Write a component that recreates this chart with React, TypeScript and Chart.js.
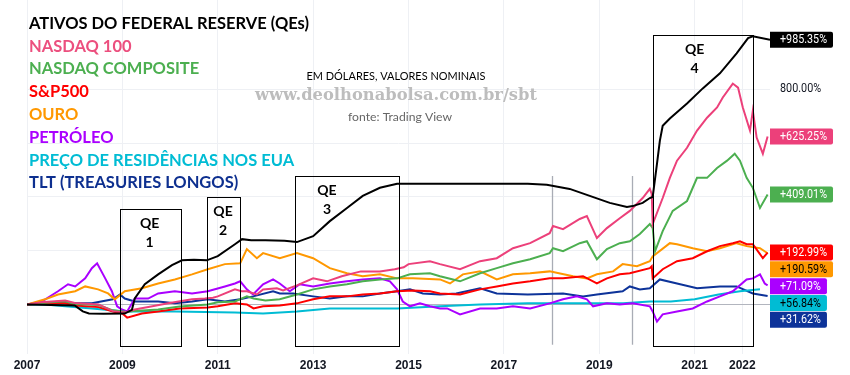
import React, { useEffect, useRef } from "react";
import { Chart, registerables } from "chart.js";

Chart.register(...registerables);

// ---------- data ----------
const xTickYears = [2007, 2009, 2011, 2013, 2015, 2017, 2019, 2021, 2022];
const yGridValues = [0, 200, 400, 600, 800];
const yLabelValue = 800;
const markerYears = [2018.0, 2019.68];
const markerRange = [-150, 478];

const seriesNames = [
  "ATIVOS DO FEDERAL RESERVE (QEs)",
  "NASDAQ 100",
  "NASDAQ COMPOSITE",
  "S&P500",
  "OURO",
  "PETRÓLEO",
  "PREÇO DE RESIDÊNCIAS NOS EUA",
  "TLT (TREASURIES LONGOS)",
];
const seriesColors = ["#000000", "#EC407A", "#4CAF50", "#FF0000", "#FF9800", "#AA00FF", "#00BCD4", "#0D3399"];
const legendColors = ["#000000", "#EC4F7E", "#4CAF50", "#FF0000", "#FF9800", "#AA00FF", "#00BCD4", "#0D2F8F"];
const tagTextColors = ["#ffffff", "#ffffff", "#ffffff", "#ffffff", "#000000", "#ffffff", "#000000", "#ffffff"];
const finalValues = [985.35, 625.25, 409.01, 192.99, 190.59, 71.09, 56.84, 31.62];

const fedAssets = [
  [2007.0, 0], [2008.0, -4], [2008.17, -26], [2008.3, -34], [2008.6, -35], [2009.05, -34], [2009.2, -20],
  [2009.26, 22], [2009.47, 75], [2009.75, 112], [2010.04, 146], [2010.25, 164], [2010.5, 166], [2010.77, 164],
  [2011.0, 180], [2011.36, 224], [2011.51, 243], [2011.7, 239], [2012.0, 239], [2012.4, 237], [2012.66, 232],
  [2013.0, 254], [2013.35, 310], [2013.71, 359], [2014.04, 404], [2014.4, 434], [2014.76, 449], [2015.1, 449],
  [2015.66, 449], [2016.5, 449], [2017.5, 449], [2017.9, 445], [2018.38, 430], [2018.8, 404], [2019.22, 378],
  [2019.58, 363], [2019.7, 366], [2019.91, 378], [2020.06, 396], [2020.12, 400], [2020.21, 523], [2020.27, 609],
  [2020.33, 665], [2020.48, 692], [2020.84, 748], [2021.17, 804], [2021.53, 860], [2021.88, 934], [2022.12, 991],
  [2022.22, 998], [2022.58, 985.35],
];
const nasdaq100 = [
  [2007.0, 0], [2007.3, 8], [2007.8, 15], [2008.0, 5], [2008.5, 0], [2008.8, -25], [2009.05, -30], [2009.26, -19],
  [2009.6, -8], [2009.96, 4], [2010.46, 19], [2010.73, 22], [2010.9, 25], [2011.0, 30], [2011.36, 56], [2011.5, 49],
  [2011.61, 49], [2011.82, 37], [2011.95, 56], [2012.24, 60], [2012.37, 52], [2012.66, 71], [2013.0, 97],
  [2013.29, 86], [2013.6, 105], [2014.0, 123], [2014.4, 123], [2014.71, 131], [2014.9, 138], [2015.0, 150],
  [2015.45, 161], [2015.66, 150], [2016.08, 131], [2016.5, 161], [2016.85, 172], [2017.19, 209], [2017.55, 228],
  [2017.96, 265], [2018.03, 292], [2018.24, 280], [2018.59, 318], [2018.74, 329], [2018.95, 247], [2019.16, 284],
  [2019.43, 321], [2019.64, 348], [2019.91, 396], [2020.06, 430], [2020.1, 411], [2020.12, 299], [2020.33, 396],
  [2020.48, 471], [2020.63, 535], [2020.84, 583], [2021.05, 647], [2021.26, 695], [2021.47, 733], [2021.59, 770],
  [2021.8, 822], [2021.91, 807], [2022.01, 733], [2022.16, 647], [2022.22, 721], [2022.3, 621], [2022.43, 561],
  [2022.53, 625.25],
];
const nasdaqComposite = [
  [2007.0, 0], [2007.5, 8], [2007.8, 12], [2008.0, 2], [2008.5, -2], [2008.8, -22], [2009.1, -28], [2009.26, -24],
  [2009.75, -19], [2010.2, -8], [2010.79, 0], [2011.0, 8], [2011.36, 11], [2011.61, 30], [2011.75, 22], [2012.0, 15],
  [2012.3, 19], [2012.66, 37], [2013.0, 56], [2013.35, 67], [2013.71, 75], [2014.04, 86], [2014.4, 93],
  [2014.76, 97], [2015.03, 112], [2015.45, 116], [2015.66, 105], [2016.08, 86], [2016.5, 116], [2016.85, 135],
  [2017.19, 153], [2017.55, 168], [2017.96, 191], [2018.03, 209], [2018.24, 198], [2018.59, 228], [2018.74, 235],
  [2018.95, 168], [2019.16, 206], [2019.43, 228], [2019.64, 235], [2019.85, 262], [2020.06, 299], [2020.12, 285],
  [2020.17, 198], [2020.33, 273], [2020.54, 348], [2020.84, 385], [2021.05, 471], [2021.26, 471], [2021.47, 508],
  [2021.68, 535], [2021.84, 561], [2021.95, 535], [2022.09, 471], [2022.22, 434], [2022.37, 359], [2022.53, 409.01],
];
const sp500 = [
  [2007.0, 0], [2007.5, 5], [2007.8, 4], [2008.0, -4], [2008.5, -10], [2008.8, -26], [2009.0, -34], [2009.1, -49],
  [2009.41, -34], [2009.75, -26], [2010.2, -15], [2010.79, -11], [2011.0, -7], [2011.36, 4], [2011.61, 0],
  [2011.75, -15], [2011.95, -7], [2012.3, -4], [2012.66, 4], [2013.0, 19], [2013.35, 30], [2013.71, 30],
  [2014.04, 37], [2014.4, 41], [2014.76, 49], [2015.09, 52], [2015.45, 49], [2015.66, 41], [2016.08, 37],
  [2016.5, 56], [2016.85, 67], [2017.19, 78], [2017.55, 86], [2017.96, 97], [2018.24, 97], [2018.66, 105],
  [2018.95, 78], [2019.16, 97], [2019.43, 112], [2019.64, 116], [2020.06, 135], [2020.1, 142], [2020.12, 97],
  [2020.33, 131], [2020.63, 161], [2020.96, 172], [2021.26, 198], [2021.53, 217], [2021.8, 228], [2021.95, 235],
  [2022.09, 224], [2022.22, 224], [2022.37, 187], [2022.43, 172], [2022.53, 192.99],
];
const gold = [
  [2007.0, 0], [2007.38, 19], [2007.65, 37], [2008.01, 49], [2008.22, 67], [2008.49, 56], [2008.7, 41],
  [2008.84, 19], [2009.05, 49], [2009.41, 60], [2009.75, 78], [2010.1, 93], [2010.46, 112], [2010.79, 131],
  [2011.15, 150], [2011.47, 153], [2011.61, 206], [2011.82, 172], [2011.95, 191], [2012.3, 172], [2012.66, 191],
  [2013.0, 172], [2013.35, 135], [2013.71, 116], [2014.04, 105], [2014.4, 112], [2014.76, 97], [2015.09, 97],
  [2015.66, 93], [2015.87, 78], [2016.14, 112], [2016.5, 123], [2016.85, 93], [2017.19, 112], [2017.55, 116],
  [2017.96, 123], [2018.45, 105], [2018.74, 97], [2018.95, 112], [2019.29, 123], [2019.49, 150], [2019.79, 142],
  [2020.06, 161], [2020.12, 179], [2020.48, 228], [2020.63, 224], [2020.96, 209], [2021.26, 198], [2021.53, 209],
  [2021.88, 228], [2022.09, 217], [2022.37, 209], [2022.53, 190.59],
];
const oil = [
  [2007.0, 0], [2007.31, 11], [2007.65, 49], [2007.86, 75], [2008.01, 67], [2008.22, 97], [2008.36, 135],
  [2008.47, 153], [2008.64, 97], [2008.78, 49], [2008.89, -7], [2008.99, -19], [2009.1, -26], [2009.26, 22],
  [2009.54, 22], [2009.75, 41], [2010.1, 49], [2010.46, 41], [2010.79, 49], [2011.15, 67], [2011.36, 78],
  [2011.47, 86], [2011.61, 56], [2011.74, 37], [2011.95, 75], [2012.16, 93], [2012.3, 78], [2012.51, 49],
  [2012.72, 75], [2013.0, 67], [2013.35, 78], [2013.71, 86], [2014.04, 93], [2014.4, 97], [2014.61, 86],
  [2014.76, 56], [2014.88, 11], [2015.03, -7], [2015.24, 4], [2015.45, -7], [2015.66, -15], [2015.81, -15],
  [2016.08, -37], [2016.5, -15], [2016.85, -15], [2017.19, -7], [2017.55, -15], [2017.96, 4], [2018.24, 19],
  [2018.53, 30], [2018.74, 19], [2018.87, -7], [2019.16, 4], [2019.43, 0], [2019.7, 4], [2020.06, -7],
  [2020.12, -26], [2020.21, -64], [2020.33, -37], [2020.63, -26], [2020.96, -15], [2021.26, 11], [2021.53, 30],
  [2021.8, 49], [2022.09, 93], [2022.22, 97], [2022.37, 112], [2022.47, 78], [2022.53, 71.09],
];
const housing = [
  [2007.0, 0], [2007.38, 0], [2007.8, -7], [2008.36, -15], [2009.05, -26], [2010.1, -26], [2011.36, -30],
  [2011.95, -34], [2012.66, -26], [2013.35, -15], [2014.04, -15], [2014.76, -15], [2015.66, -7], [2016.5, 0],
  [2017.5, 4], [2018.5, 4], [2019.5, 4], [2020.06, 11], [2020.5, 11], [2021.0, 19], [2021.5, 37], [2021.95, 49],
  [2022.37, 56.84],
];
const tlt = [
  [2007.0, 0], [2007.65, 4], [2008.36, 4], [2008.8, 19], [2008.95, 37], [2009.05, 22], [2009.26, 11],
  [2009.75, 11], [2010.1, 4], [2010.46, 11], [2010.79, 19], [2011.15, 11], [2011.47, 19], [2011.74, 30],
  [2012.16, 49], [2012.3, 41], [2012.58, 41], [2013.0, 30], [2013.35, 22], [2013.71, 30], [2014.04, 30],
  [2014.4, 41], [2014.76, 49], [2015.03, 56], [2015.3, 41], [2015.66, 37], [2016.0, 41], [2016.5, 60],
  [2016.85, 41], [2017.5, 37], [2018.24, 41], [2018.66, 30], [2018.95, 37], [2019.49, 49], [2019.64, 67],
  [2019.85, 56], [2020.06, 60], [2020.27, 93], [2020.63, 78], [2021.05, 60], [2021.53, 67], [2021.88, 67],
  [2022.22, 41], [2022.53, 31.62],
];
const seriesData = [fedAssets, nasdaq100, nasdaqComposite, sp500, gold, oil, housing, tlt];

const qeNumbers = ["1", "2", "3", "4"];
const qeStart = [2008.94, 2010.77, 2012.63, 2020.13];
const qeEnd = [2010.22, 2011.47, 2014.81, 2022.23];
const qeTop = [355, 400, 478, 1004];
const qeBottom = -153;
const qeLabelX = [2009.57, 2011.11, 2013.29, 2021.0];

const noteLines = ["EM DÓLARES, VALORES NOMINAIS", "www.deolhonabolsa.com.br/sbt", "fonte: Trading View"];

// ---------- helpers ----------
function fittedText(ctx: CanvasRenderingContext2D, text: string, x: number, y: number, sx: number) {
  ctx.save();
  ctx.translate(x, y);
  ctx.scale(sx, 1);
  ctx.fillText(text, 0, 0);
  ctx.restore();
}

const overlayPlugin = {
  id: "overlay",
  beforeDatasetsDraw(chart: any) {
    const { ctx, scales } = chart;
    const x = scales.x, y = scales.y;
    ctx.save();
    ctx.strokeStyle = "#a9acb5";
    ctx.lineWidth = 1.3;
    markerYears.forEach((yr) => {
      const px = Math.round(x.getPixelForValue(yr)) + 0.5;
      ctx.beginPath();
      ctx.moveTo(px, y.getPixelForValue(markerRange[1]));
      ctx.lineTo(px, y.getPixelForValue(markerRange[0]));
      ctx.stroke();
    });
    ctx.restore();
  },
  afterDatasetsDraw(chart: any) {
    const { ctx, scales } = chart;
    const x = scales.x, y = scales.y;
    ctx.save();
    // QE boxes
    ctx.strokeStyle = "#000";
    ctx.lineWidth = 1;
    qeNumbers.forEach((n, i) => {
      const l = Math.round(x.getPixelForValue(qeStart[i])) + 0.5;
      const r = Math.round(x.getPixelForValue(qeEnd[i])) + 0.5;
      const t = Math.round(y.getPixelForValue(qeTop[i])) + 0.5;
      const b = Math.round(y.getPixelForValue(qeBottom)) + 0.5;
      ctx.strokeRect(l, t, r - l, b - t);
      const cx = x.getPixelForValue(qeLabelX[i]);
      ctx.fillStyle = "#000";
      ctx.font = "bold 14px Lato";
      ctx.textAlign = "center";
      ctx.textBaseline = "middle";
      ctx.fillText("QE", cx, t + 14);
      ctx.fillText(n, cx, t + 33);
    });

    // 800% label
    ctx.textAlign = "left";
    ctx.textBaseline = "middle";
    ctx.font = "12px Roboto";
    ctx.fillStyle = "#131722";
    fittedText(ctx, yLabelValue.toFixed(2) + "%", 780, y.getPixelForValue(yLabelValue), 0.9);

    // value tags
    ctx.font = "12.5px Roboto";
    const sx = 47 / ctx.measureText("+985.35%").width;
    let prev = -1e9;
    finalValues.forEach((v, i) => {
      let cy = y.getPixelForValue(v);
      if (cy < prev + 16.8) cy = prev + 16.8;
      prev = cy;
      const txt = "+" + v.toFixed(2) + "%";
      const w = ctx.measureText(txt).width * sx;
      const left = chart.chartArea.right;
      ctx.fillStyle = seriesColors[i];
      ctx.beginPath();
      (ctx as any).roundRect(left, cy - 8, w + 16, 16, [0, 2, 2, 0]);
      ctx.fill();
      ctx.fillStyle = tagTextColors[i];
      ctx.textBaseline = "middle";
      fittedText(ctx, txt, left + 10, cy + 0.5, sx);
    });
    ctx.restore();
  },
  afterDraw(chart: any) {
    const { ctx } = chart;
    ctx.save();
    // legend block
    ctx.font = "bold 17px Lato";
    ctx.textAlign = "left";
    ctx.textBaseline = "alphabetic";
    const lsx = 280 / ctx.measureText(seriesNames[0]).width;
    seriesNames.forEach((name, i) => {
      ctx.fillStyle = legendColors[i];
      fittedText(ctx, name, 29, 28.7 + 22.8 * i, lsx);
    });
    // notes
    ctx.textBaseline = "middle";
    ctx.font = "11px Lato";
    ctx.fillStyle = "#000";
    let w = ctx.measureText(noteLines[0]).width;
    let s = 179 / w;
    fittedText(ctx, noteLines[0], 396 - (w * s) / 2, 76, s);
    ctx.font = "bold 17px 'DejaVu Serif'";
    ctx.fillStyle = "#bdbdbd";
    w = ctx.measureText(noteLines[1]).width;
    s = 282 / w;
    fittedText(ctx, noteLines[1], 396 - (w * s) / 2, 96, s);
    ctx.font = "12px Lato";
    ctx.fillStyle = "#666";
    w = ctx.measureText(noteLines[2]).width;
    s = 104 / w;
    fittedText(ctx, noteLines[2], 400 - (w * s) / 2, 117, s);
    ctx.restore();
  },
};

export default function App() {
  const ref = useRef<HTMLCanvasElement | null>(null);
  useEffect(() => {
    if (!ref.current) return;
    const chart = new Chart(ref.current, {
      type: "line",
      data: {
        datasets: seriesData.map((pts, i) => ({
          label: seriesNames[i],
          data: pts.map(([a, b]) => ({ x: a, y: b })),
          borderColor: seriesColors[i],
          backgroundColor: seriesColors[i],
          borderWidth: 2,
          pointRadius: 0,
          tension: 0,
          fill: false,
        })),
      },
      options: {
        responsive: false,
        animation: false,
        events: [],
        layout: { padding: { left: 27, right: 80, top: 0, bottom: 4 } },
        plugins: { legend: { display: false }, tooltip: { enabled: false }, title: { display: false } },
        scales: {
          x: {
            type: "linear",
            min: 2007,
            max: 2022.58,
            afterBuildTicks: (scale: any) => {
              scale.ticks = xTickYears.map((v) => ({ value: v }));
            },
            ticks: {
              autoSkip: false,
              maxRotation: 0,
              padding: 5,
              color: "#131722",
              font: { family: "'Liberation Sans'", size: 12, weight: "bold" },
              callback: (v: any) => String(v),
            },
            grid: { color: "#eef0f4", drawTicks: false },
            border: { display: false },
          },
          y: {
            type: "linear",
            position: "right",
            min: -183,
            max: 1133,
            afterBuildTicks: (scale: any) => {
              scale.ticks = yGridValues.map((v) => ({ value: v }));
            },
            ticks: { display: false },
            grid: {
              drawTicks: false,
              color: (c: any) => (c.tick && c.tick.value === 0 ? "#b2b5be" : "#eef0f4"),
            },
            border: { display: false },
          },
        },
      },
      plugins: [overlayPlugin],
    } as any);
    return () => chart.destroy();
  }, []);
  return (
    <div style={{ position: "fixed", left: 0, top: 0, width: 850, height: 375, background: "#fff", overflow: "hidden" }}>
      <canvas ref={ref} width={850} height={382} style={{ display: "block" }} />
    </div>
  );
}
